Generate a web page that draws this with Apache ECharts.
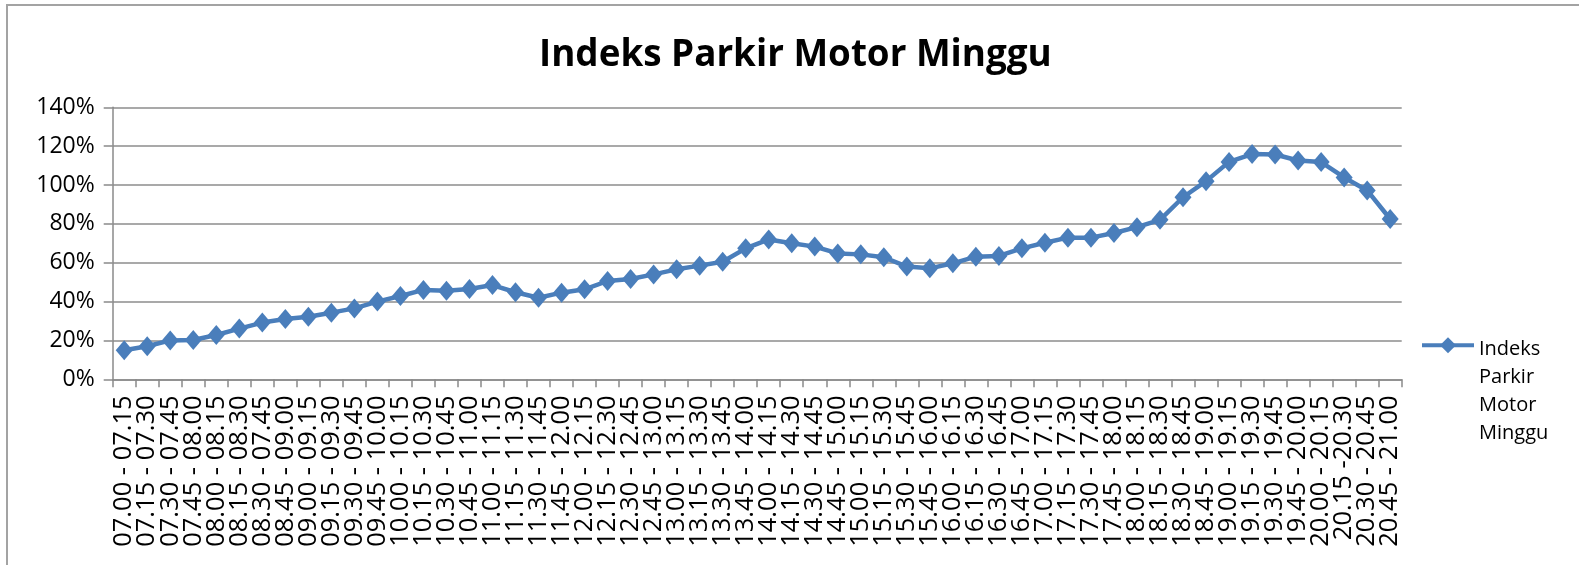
<!DOCTYPE html>
<html>
<head>
<meta charset="utf-8">
<title>Indeks Parkir Motor Minggu</title>
<script src="https://cdn.jsdelivr.net/npm/echarts@6/dist/echarts.min.js"></script>
<style>
  html, body { margin: 0; padding: 0; background: #ffffff; }
  #wrap { position: relative; width: 1579px; height: 565px; overflow: hidden; }
  #chart { position: absolute; left: 0; top: 0; width: 1579px; height: 565px; }
  #frame { position: absolute; left: 6px; top: 4px; right: -4px; bottom: -4px;
           border-left: 2px solid #a3a3a3; border-top: 2px solid #a3a3a3; pointer-events: none; }
</style>
</head>
<body>
<div id="wrap">
  <div id="chart"></div>
  <div id="frame"></div>
</div>
<script>
// 15-minute time slots, Sunday
const categories = [
  '07.00 - 07.15', '07.15 - 07.30', '07.30 - 07.45', '07.45 - 08.00',
  '08.00 - 08.15', '08.15 - 08.30', '08.30 - 07.45', '08.45 - 09.00',
  '09.00 - 09.15', '09.15 - 09.30', '09.30 - 09.45', '09.45 - 10.00',
  '10.00 - 10.15', '10.15 - 10.30', '10.30 - 10.45', '10.45 - 11.00',
  '11.00 - 11.15', '11.15 - 11.30', '11.30 - 11.45', '11.45 - 12.00',
  '12.00 - 12.15', '12.15 - 12.30', '12.30 - 12.45', '12.45 - 13.00',
  '13.00 - 13.15', '13.15 - 13.30', '13.30 - 13.45', '13.45 - 14.00',
  '14.00 - 14.15', '14.15 - 14.30', '14.30 - 14.45', '14.45 - 15.00',
  '15.00 - 15.15', '15.15 - 15.30', '15.30 - 15.45', '15.45 - 16.00',
  '16.00 - 16.15', '16.15 - 16.30', '16.30 - 16.45', '16.45 - 17.00',
  '17.00 - 17.15', '17.15 - 17.30', '17.30 - 17.45', '17.45 - 18.00',
  '18.00 - 18.15', '18.15 - 18.30', '18.30 - 18.45', '18.45 - 19.00',
  '19.00 - 19.15', '19.15 - 19.30', '19.30 - 19.45', '19.45 - 20.00',
  '20.00 - 20.15', '20.15 -20.30', '20.30 - 20.45', '20.45 - 21.00'
];

// parking index in percent
const indeksParkir = [
  15.0, 17.0, 20.0, 20.2, 22.8, 26.1, 29.2, 31.0, 32.2, 34.3,
  36.5, 40.0, 42.9, 46.0, 45.6, 46.5, 48.5, 44.8, 42.0, 44.6,
  46.3, 50.6, 51.6, 54.0, 56.6, 58.5, 60.5, 67.4, 72.0, 70.0,
  68.3, 64.8, 64.3, 62.8, 58.0, 57.1, 59.7, 63.1, 63.5, 67.4,
  70.3, 72.9, 72.9, 75.3, 78.3, 82.1, 93.7, 102.0, 111.9, 115.9,
  115.7, 112.6, 111.8, 103.9, 97.2, 82.5
];

const seriesName = 'Indeks Parkir Motor Minggu';
const titleText = 'Indeks Parkir Motor Minggu';
const yTicks = { min: 0, max: 140, step: 20 };

const FONT = 'Open Sans';
const lineColor = '#4a7ebb';

// legend text: one word per line, pushed down so the first word sits beside the icon
function legendLabel(name) {
  return name.split(' ').map(function (w) { return '{t|' + w + '}'; }).join('\n');
}

const chart = echarts.init(document.getElementById('chart'), null, { renderer: 'canvas' });

chart.setOption({
  animation: false,
  backgroundColor: '#ffffff',
  title: {
    text: titleText,
    left: 539,
    top: 37,
    padding: 0,
    textStyle: {
      fontFamily: FONT,
      fontWeight: 'bold',
      fontSize: 36.8,
      color: '#000000'
    }
  },
  legend: {
    left: 1420,
    top: 247,
    padding: 0,
    itemWidth: 52,
    itemHeight: 20,
    formatter: legendLabel,
    lineStyle: { width: 4, color: lineColor },
    itemStyle: { color: lineColor },
    textStyle: {
      fontFamily: FONT,
      fontSize: 20,
      color: '#000000',
      rich: {
        t: { fontFamily: FONT, fontSize: 20, lineHeight: 28.2, color: '#000000', padding: [92, 0, 0, 0] }
      }
    },
    data: [seriesName]
  },
  grid: {
    left: 112.7,
    right: 177.3,
    top: 107.3,
    bottom: 185.7,
    containLabel: false
  },
  xAxis: {
    type: 'category',
    data: categories,
    boundaryGap: true,
    axisLine: { show: true, lineStyle: { color: '#8a8a8a', width: 1.5 } },
    axisTick: { show: true, length: 8, alignWithLabel: false, lineStyle: { color: '#8a8a8a', width: 1.5 } },
    axisLabel: {
      interval: 0,
      rotate: 90,
      margin: 16,
      fontFamily: FONT,
      fontSize: 25.5,
      color: '#000000'
    },
    splitLine: { show: false }
  },
  yAxis: {
    type: 'value',
    min: yTicks.min,
    max: yTicks.max,
    interval: yTicks.step,
    axisLine: { show: true, lineStyle: { color: '#8a8a8a', width: 1.5 } },
    axisTick: { show: true, length: 9, lineStyle: { color: '#8a8a8a', width: 1.5 } },
    axisLabel: {
      margin: 18,
      fontFamily: FONT,
      fontSize: 23,
      color: '#000000',
      formatter: function (v) { return v + '%'; }
    },
    splitLine: { show: true, lineStyle: { color: '#8c8c8c', width: 1.5 } }
  },
  series: [{
    name: seriesName,
    type: 'line',
    data: indeksParkir,
    symbol: 'diamond',
    symbolSize: [17, 20],
    showSymbol: true,
    lineStyle: { color: lineColor, width: 4.5 },
    itemStyle: { color: lineColor, borderWidth: 0 },
    emphasis: { disabled: true }
  }]
});
</script>
</body>
</html>
